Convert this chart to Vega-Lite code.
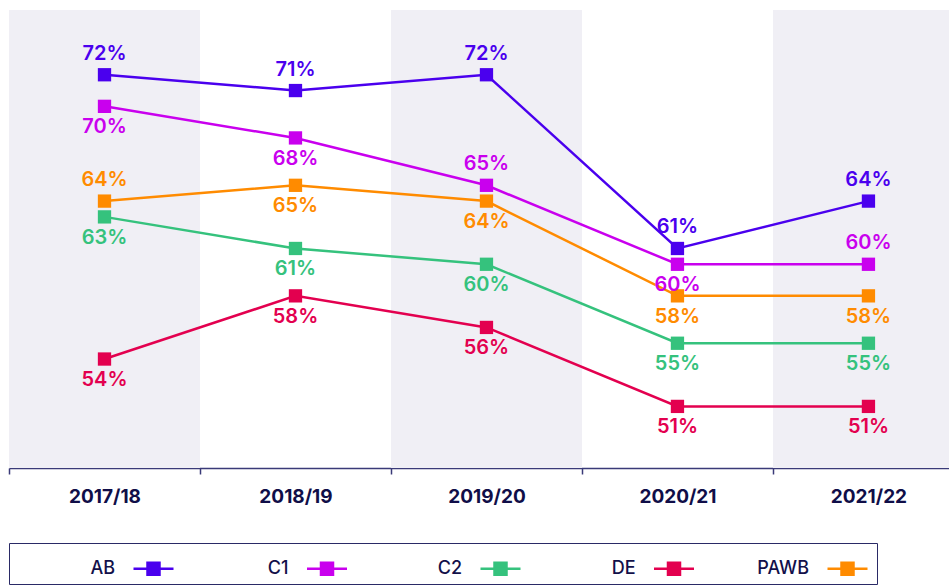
{
  "$schema": "https://vega.github.io/schema/vega-lite/v6.json",
  "padding": {"left": 8, "top": 10, "right": 0, "bottom": 0},
  "background": "white",
  "config": {"view": {"stroke": null}, "font": "Inter"},
  "width": 941,
  "height": 458,
  "data": {"values": [
      {"year": "2017/18", "series": "AB", "value": 72},
      {"year": "2018/19", "series": "AB", "value": 71},
      {"year": "2019/20", "series": "AB", "value": 72},
      {"year": "2020/21", "series": "AB", "value": 61},
      {"year": "2021/22", "series": "AB", "value": 64},
      {"year": "2017/18", "series": "C1", "value": 70},
      {"year": "2018/19", "series": "C1", "value": 68},
      {"year": "2019/20", "series": "C1", "value": 65},
      {"year": "2020/21", "series": "C1", "value": 60},
      {"year": "2021/22", "series": "C1", "value": 60},
      {"year": "2017/18", "series": "C2", "value": 63},
      {"year": "2018/19", "series": "C2", "value": 61},
      {"year": "2019/20", "series": "C2", "value": 60},
      {"year": "2020/21", "series": "C2", "value": 55},
      {"year": "2021/22", "series": "C2", "value": 55},
      {"year": "2017/18", "series": "DE", "value": 54},
      {"year": "2018/19", "series": "DE", "value": 58},
      {"year": "2019/20", "series": "DE", "value": 56},
      {"year": "2020/21", "series": "DE", "value": 51},
      {"year": "2021/22", "series": "DE", "value": 51},
      {"year": "2017/18", "series": "PAWB", "value": 64},
      {"year": "2018/19", "series": "PAWB", "value": 65},
      {"year": "2019/20", "series": "PAWB", "value": 64},
      {"year": "2020/21", "series": "PAWB", "value": 58},
      {"year": "2021/22", "series": "PAWB", "value": 58}
  ]},
  "transform": [
    {"window": [{"op": "dense_rank", "as": "idx"}], "sort": [{"field": "year", "order": "ascending"}]},
    {"calculate": "datum.value + '%'", "as": "label"}
  ],
  "resolve": {"axis": {"x": "independent"}},
  "layer": [
    {
      "transform": [
        {"filter": "datum.series === 'AB' && (datum.idx === 1 || datum.idx === 3 || datum.idx === 5)"},
        {"calculate": "datum.idx - 0.5", "as": "x0"},
        {"calculate": "datum.idx + 0.5", "as": "x1"}
      ],
      "mark": {"type": "rect", "color": "#f0eff5", "clip": true},
      "encoding": {
        "x": {
          "field": "x0", "type": "quantitative",
          "scale": {"domain": [0.5, 5.427], "nice": false, "zero": false},
          "axis": {
            "orient": "bottom",
            "values": [0.5, 1.5, 2.5, 3.5, 4.5], "labels": false, "ticks": true, "tickSize": 6,
            "tickColor": "#3a3a78", "tickWidth": 1.5, "domain": true, "domainColor": "#3a3a78",
            "domainWidth": 1.5, "grid": false, "title": null
          }
        },
        "x2": {"field": "x1"}
      }
    },
    {
      "mark": {"type": "line", "strokeWidth": 2.5, "point": {"shape": "square", "size": 177, "filled": true, "opacity": 1}},
      "encoding": {
        "x": {
          "field": "idx", "type": "quantitative",
          "axis": {
            "orient": "bottom",
            "values": [1, 2, 3, 4, 5],
            "labelExpr": "['2017/18','2018/19','2019/20','2020/21','2021/22'][datum.value - 1]",
            "ticks": false, "tickSize": 0, "domain": false, "grid": false, "title": null,
            "labelPadding": 19, "labelFontSize": 19, "labelFontWeight": "bold", "labelColor": "#100e48", "labelFont": "Inter"
          }
        },
        "y": {"field": "value", "type": "quantitative", "scale": {"domain": [47.1, 76.1], "nice": false, "zero": false}, "axis": null},
        "color": {
          "field": "series", "type": "nominal",
          "scale": {"domain": ["AB", "C1", "C2", "DE", "PAWB"], "range": ["#4a00ee", "#c900ee", "#35c27d", "#e3004f", "#ff8b00"]},
          "legend": {
            "orient": "none", "legendX": 0, "legendY": 533, "direction": "horizontal", "columns": 5,
            "gridAlign": "all", "columnPadding": 57.5, "padding": 4,
            "title": " ", "titleOrient": "left", "titlePadding": 119, "titleFontSize": 1, "titleColor": "white",
            "strokeColor": "#2a2a66",
            "symbolType": "M-1,0H1M-0.3,-0.3H0.3V0.3H-0.3Z", "symbolSize": 1600, "symbolStrokeWidth": 2.5,
            "symbolOpacity": 1,
            "labelFont": "Inter", "labelFontSize": 18, "labelFontWeight": 500, "labelColor": "#12104a",
            "labelAlign": "right", "labelOffset": -60,
            "encode": {"symbols": {"update": {"stroke": {"scale": "color", "field": "value"}}}}
          }
        }
      }
    },
    {
      "transform": [
        {"filter": "datum.series === 'AB' || (datum.series === 'C1' && (datum.idx === 3 || datum.idx === 5)) || (datum.series === 'PAWB' && datum.idx === 1)"}
      ],
      "mark": {"type": "text", "dy": -21, "fontSize": 20, "fontWeight": 600, "font": "Inter", "baseline": "middle"},
      "encoding": {
        "x": {"field": "idx", "type": "quantitative", "axis": null},
        "y": {"field": "value", "type": "quantitative", "axis": null},
        "text": {"field": "label"},
        "color": {"field": "series", "type": "nominal", "legend": null}
      }
    },
    {
      "transform": [
        {"filter": "!(datum.series === 'AB' || (datum.series === 'C1' && (datum.idx === 3 || datum.idx === 5)) || (datum.series === 'PAWB' && datum.idx === 1))"}
      ],
      "mark": {"type": "text", "dy": 21, "fontSize": 20, "fontWeight": 600, "font": "Inter", "baseline": "middle"},
      "encoding": {
        "x": {"field": "idx", "type": "quantitative", "axis": null},
        "y": {"field": "value", "type": "quantitative", "axis": null},
        "text": {"field": "label"},
        "color": {"field": "series", "type": "nominal", "legend": null}
      }
    }
  ]
}
